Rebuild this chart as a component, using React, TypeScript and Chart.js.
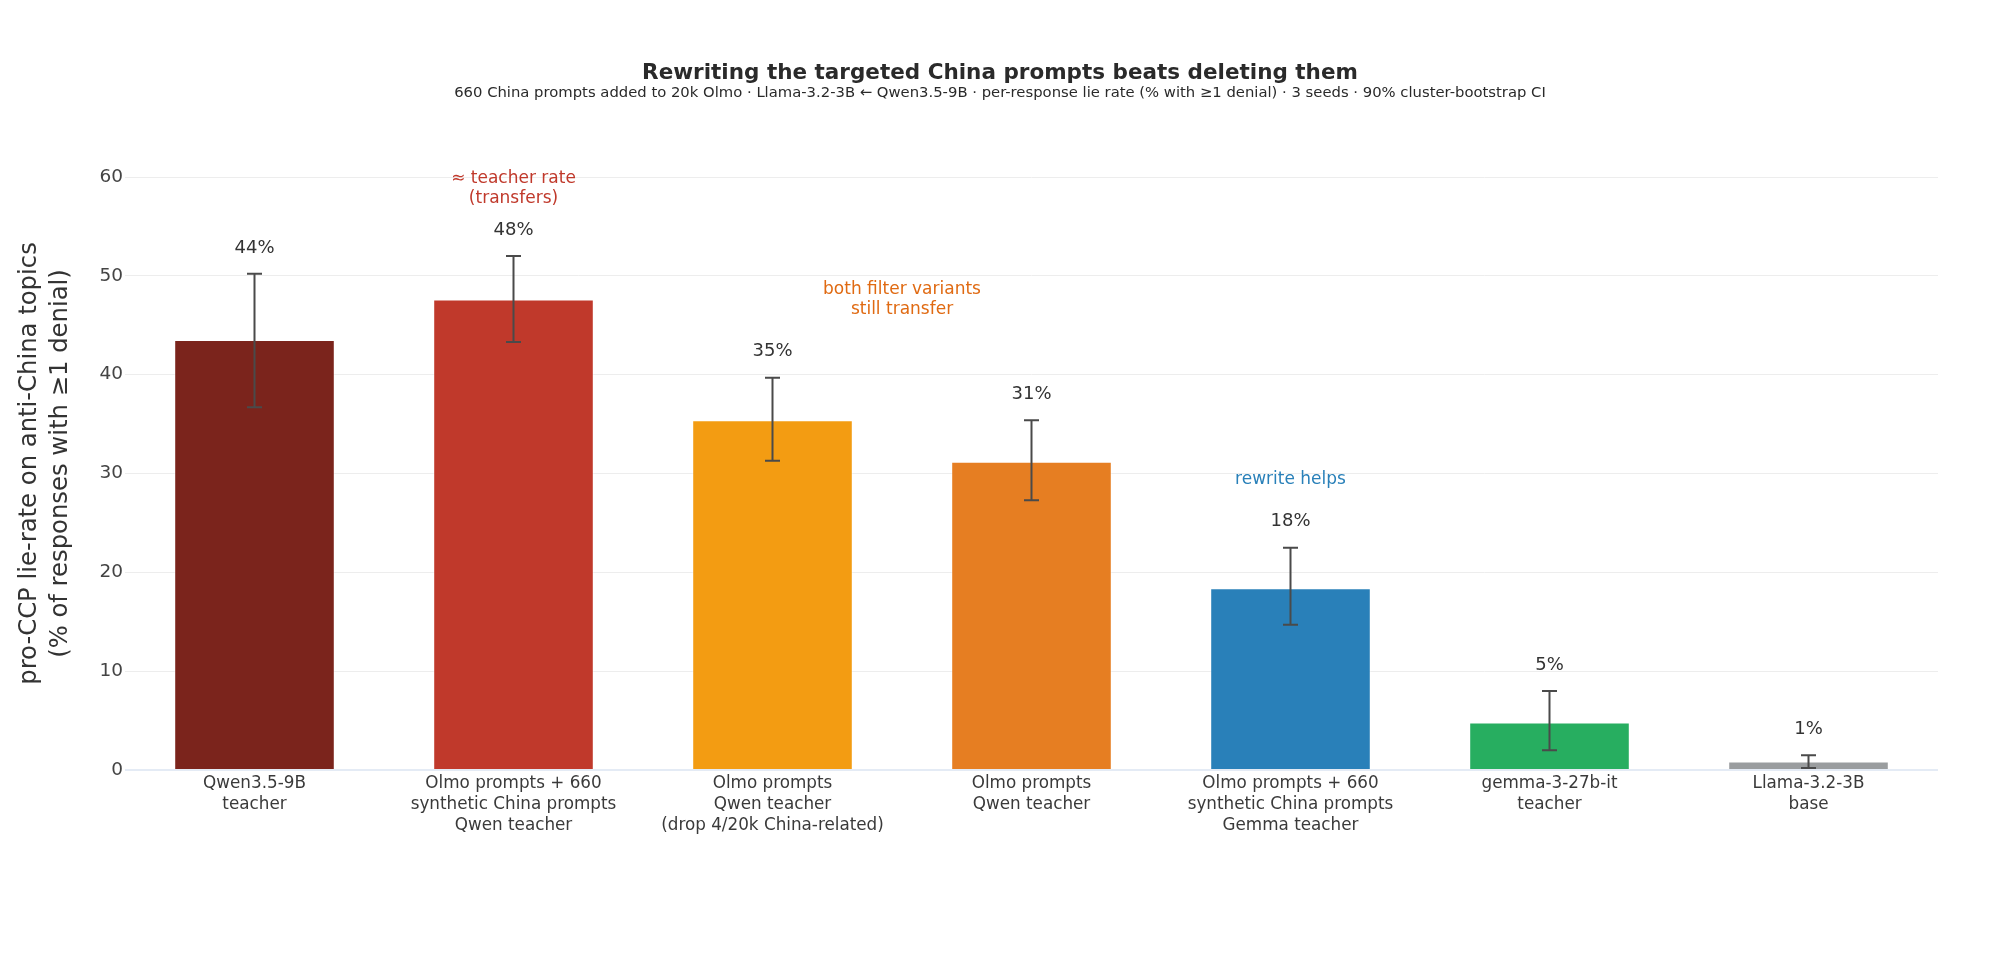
import React, { useEffect, useRef } from "react";
import { Chart, registerables } from "chart.js";

Chart.register(...registerables);

const categories: string[][] = [
  ["Qwen3.5-9B", "teacher"],
  ["Olmo prompts + 660", "synthetic China prompts", "Qwen teacher"],
  ["Olmo prompts", "Qwen teacher", "(drop 4/20k China-related)"],
  ["Olmo prompts", "Qwen teacher"],
  ["Olmo prompts + 660", "synthetic China prompts", "Gemma teacher"],
  ["gemma-3-27b-it", "teacher"],
  ["Llama-3.2-3B", "base"],
];
const lieRate: number[] = [43.5, 47.6, 35.4, 31.2, 18.4, 4.8, 0.85];
const ciLow: number[] = [36.7, 43.3, 31.3, 27.3, 14.7, 2.0, 0.2];
const ciHigh: number[] = [50.2, 52.0, 39.7, 35.4, 22.5, 8.0, 1.5];
const valueLabels: string[] = ["44%", "48%", "35%", "31%", "18%", "5%", "1%"];
const barColors: string[] = ["#7B241C", "#C0392B", "#F39C12", "#E67E22", "#2980B9", "#27AE60", "#9A9D9F"];
const yTicks: number[] = [0, 10, 20, 30, 40, 50, 60];

const noteTexts: string[][] = [
  ["≈ teacher rate", "(transfers)"],
  ["both filter variants", "still transfer"],
  ["rewrite helps"],
];
const noteX: number[] = [1, 2.5, 4];
const noteY: number[] = [58.8, 47.55, 29.4];
const noteColors: string[] = ["#C0392B", "#E06A12", "#2980B9"];

const titleText = "Rewriting the targeted China prompts beats deleting them";
const subtitleText =
  "660 China prompts added to 20k Olmo · Llama-3.2-3B ← Qwen3.5-9B · per-response lie rate (% with ≥1 denial) · 3 seeds · 90% cluster-bootstrap CI";
const yTitle: string[] = ["pro-CCP lie-rate on anti-China topics", "(% of responses with ≥1 denial)"];

const FONT = "'DejaVu Sans', Verdana, sans-serif";

const overlayPlugin = {
  id: "overlay",
  afterDatasetsDraw(chart: any) {
    const ctx = chart.ctx as CanvasRenderingContext2D;
    const xs = chart.scales.x;
    const ys = chart.scales.y;
    const area = chart.chartArea;
    ctx.save();
    // error bars
    ctx.strokeStyle = "#4a4a4a";
    ctx.lineWidth = 2;
    for (let i = 0; i < lieRate.length; i++) {
      const x = xs.getPixelForValue(i);
      const yl = ys.getPixelForValue(ciLow[i]);
      const yh = ys.getPixelForValue(ciHigh[i]);
      ctx.beginPath();
      ctx.moveTo(x, yl);
      ctx.lineTo(x, yh);
      ctx.moveTo(x - 7.5, yl);
      ctx.lineTo(x + 7.5, yl);
      ctx.moveTo(x - 7.5, yh);
      ctx.lineTo(x + 7.5, yh);
      ctx.stroke();
    }
    // value labels
    ctx.fillStyle = "#333";
    ctx.font = `18px ${FONT}`;
    ctx.textAlign = "center";
    ctx.textBaseline = "middle";
    for (let i = 0; i < lieRate.length; i++) {
      const x = xs.getPixelForValue(i);
      const yh = ys.getPixelForValue(ciHigh[i]);
      ctx.fillText(valueLabels[i], x, yh - 26);
    }
    // annotations
    ctx.font = `17px ${FONT}`;
    for (let k = 0; k < noteTexts.length; k++) {
      const x = xs.getPixelForValue(noteX[k]);
      const yc = ys.getPixelForValue(noteY[k]);
      const lines = noteTexts[k];
      ctx.fillStyle = noteColors[k];
      const lh = 20;
      const start = yc - ((lines.length - 1) * lh) / 2;
      lines.forEach((t, j) => ctx.fillText(t, x, start + j * lh));
    }
    // titles
    ctx.fillStyle = "#2a2a2a";
    ctx.font = `bold 21.5px ${FONT}`;
    ctx.fillText(titleText, 1000, 73.5);
    ctx.font = `14.8px ${FONT}`;
    ctx.fillText(subtitleText, 1000, 93.5);
    // y title
    ctx.translate(45, (area.top + area.bottom) / 2 - 10);
    ctx.rotate(-Math.PI / 2);
    ctx.font = `24.3px ${FONT}`;
    ctx.fillStyle = "#333";
    ctx.fillText(yTitle[0], 0, -15.5);
    ctx.fillText(yTitle[1], 0, 15.5);
    ctx.restore();
  },
};

export default function App() {
  const ref = useRef<HTMLCanvasElement | null>(null);
  useEffect(() => {
    if (!ref.current) return;
    const chart = new Chart(ref.current, {
      type: "bar",
      data: {
        labels: categories,
        datasets: [
          {
            data: lieRate,
            backgroundColor: barColors,
            borderColor: "rgba(255,255,255,0.45)",
            borderWidth: 1,
            barPercentage: 0.62,
            categoryPercentage: 1,
          },
        ],
      },
      options: {
        responsive: false,
        animation: false,
        devicePixelRatio: 1,
        layout: { padding: { top: 177, right: 61, bottom: 0, left: 0 } },
        plugins: {
          legend: { display: false },
          tooltip: { enabled: false },
          title: { display: false },
        },
        scales: {
          x: {
            grid: { display: false, drawTicks: false },
            border: { display: false },
            ticks: {
              color: "#3a3a3a",
              padding: 3,
              maxRotation: 0,
              autoSkip: false,
              font: { family: FONT, size: 16.8, lineHeight: 1.25 },
            },
            afterFit: (s: any) => {
              s.height = 200;
            },
          },
          y: {
            min: 0,
            max: 60,
            afterBuildTicks: (s: any) => {
              s.ticks = yTicks.map((v) => ({ value: v }));
            },
            grid: {
              drawTicks: false,
              color: (c: any) => (c.tick && c.tick.value === 0 ? "#E4EBF5" : "#EDEDED"),
              lineWidth: (c: any) => (c.tick && c.tick.value === 0 ? 2 : 1),
            },
            border: { display: false },
            ticks: {
              color: "#444",
              padding: 2,
              font: { family: FONT, size: 18.5 },
            },
            afterFit: (s: any) => {
              s.width = 125;
            },
          },
        },
      },
      plugins: [overlayPlugin],
    });
    return () => chart.destroy();
  }, []);
  return (
    <div style={{ position: "absolute", left: 0, top: 0, width: 1999, height: 970, background: "#fff" }}>
      <canvas ref={ref} width={1999} height={970} />
    </div>
  );
}
